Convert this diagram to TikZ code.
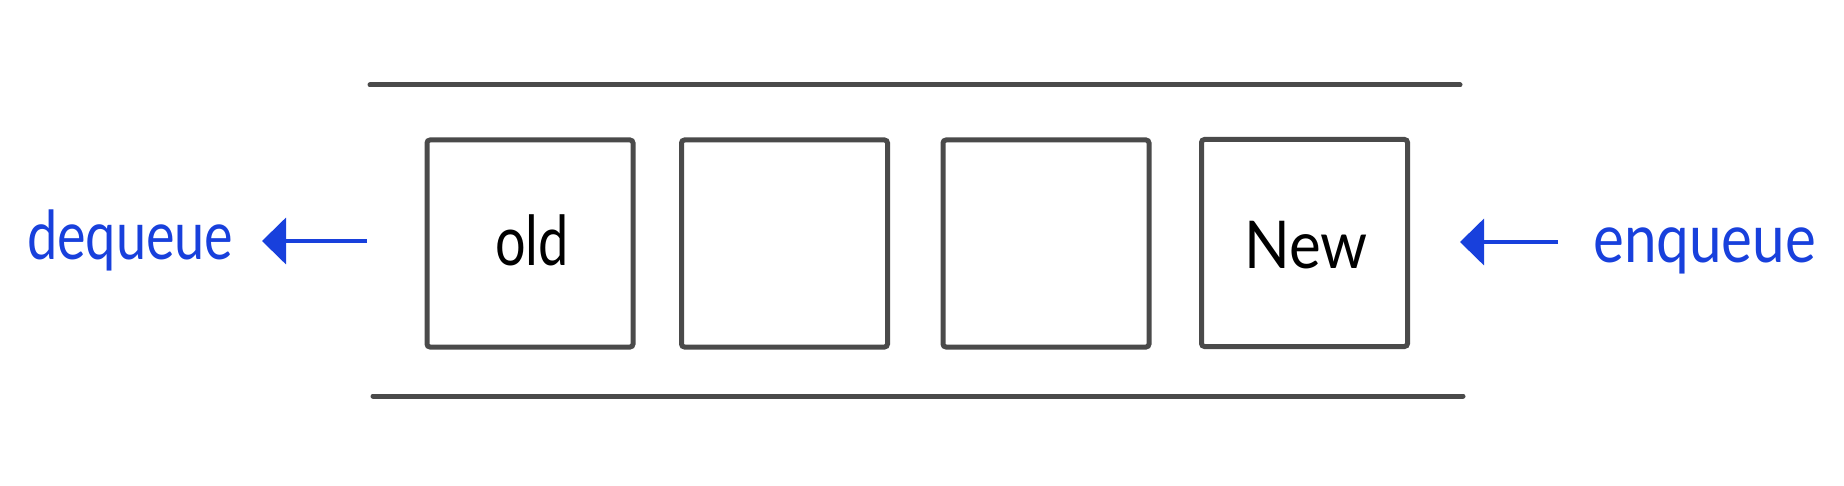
\documentclass[tikz,border=0pt]{standalone}
\usepackage{fontspec}
\setmainfont{Lato}
\usetikzlibrary{arrows.meta}
\definecolor{qgray}{HTML}{4A4A4A}
\definecolor{qblue}{HTML}{1840DC}
\tikzset{
  cell/.style={draw=qgray, line width=5pt, rounded corners=3pt, minimum width=206pt, minimum height=207pt, inner sep=0pt},
  rail/.style={draw=qgray, line width=5pt, line cap=round},
  flow/.style={draw=qblue, line width=4pt, -{Triangle[length=24pt,width=46pt]}},
  oplabel/.style={text=qblue, font=\fontsize{54}{60}\selectfont, inner sep=0pt},
  celltext/.style={font=\fontsize{60}{66}\selectfont, text=black}
}
\begin{document}
\begin{tikzpicture}[x=1pt,y=-1pt]
\useasboundingbox (0,0) rectangle (1844,486);
% rails
\coordinate (tl) at (370,85);
\coordinate (tr) at (1460,85);
\coordinate (bl) at (373,396);
\coordinate (br) at (1463,396);
\draw[rail] (tl) -- (tr);
\draw[rail] (bl) -- (br);
% cells
\node[cell] (c1) at (530,243.5) {};
\node[cell] (c2) at (784.5,243.5) {};
\node[cell] (c3) at (1046,243.5) {};
\node[cell] (c4) at (1304.5,243) {};
\node[celltext] (old) at (532,240) {\scalebox{0.9}[1.15]{old}};
\node[celltext] (new) at (1306,245) {\scalebox{1}[1.1]{New}};
% labels
\node[oplabel, anchor=base west] (deq) at (27,260) {\scalebox{1}[1.25]{dequeue}};
\node[oplabel, anchor=base west] (enq) at (1593,263) {\scalebox{1.08}[1.25]{enqueue}};
% arrows
\coordinate (deqtail) at (367,241);
\coordinate (deqtip) at (262,241);
\coordinate (enqtail) at (1558,242);
\coordinate (enqtip) at (1460,242);
\draw[flow] (deqtail) -- (deqtip);
\draw[flow] (enqtail) -- (enqtip);
\end{tikzpicture}
\end{document}
